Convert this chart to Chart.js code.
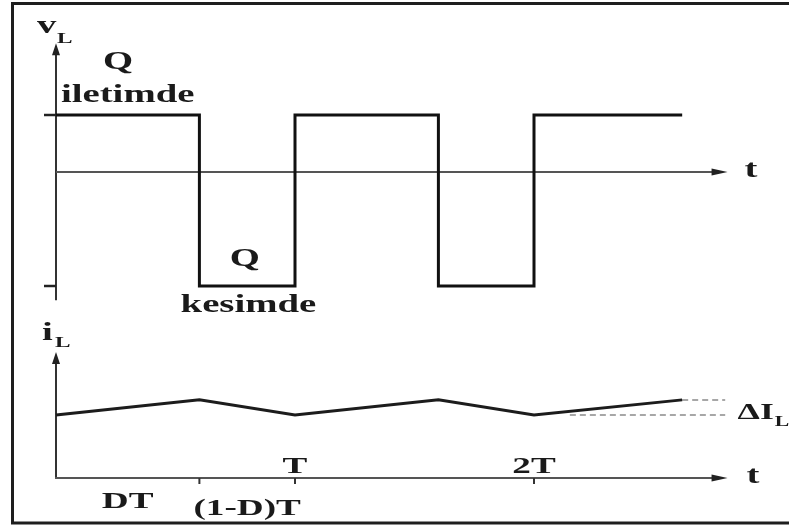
<!DOCTYPE html>
<html>
<head>
<meta charset="utf-8">
<script src="https://cdn.jsdelivr.net/npm/chart.js@4.4.1/dist/chart.umd.min.js"></script>
<style>
  html, body { margin: 0; padding: 0; background: #fff; }
  canvas { display: block; }
</style>
</head>
<body>
<canvas id="c" width="789" height="526"></canvas>
<script>
// Buck converter inductor waveforms; time is measured in switching periods T, duty cycle D = 0.6
const switchTimes = [0, 0.6, 1, 1.6, 2, 2.62];
const vLLevels    = [1, -2, 1, -2, 1, 1];              // inductor voltage (stepped)
const iLValues    = [1.0, 1.24, 1.0, 1.24, 1.0, 1.24];  // inductor current ripple
const rippleLevels = [1.24, 1.0];                       // ΔI_L reference levels
const rippleStarts = [2.62, 2.15];
const rippleEnd    = 2.8;
const periodTicks  = [1, 2];
const periodLabels = ['T', '2T'];
const dutyTick     = 0.6;
const intervalLabels = ['DT', '(1-D)T'];
const intervalCentres = [0.3, 0.8];

// Layout of the two stacked plots on one canvas
const W = 789, H = 526;
const V_ZERO_PX = 172, V_UNIT_PX = 57;     // voltage plot
const I_ZERO_PX = 478, I_UNIT_PX = 63;     // current plot
const AXIS_END = 2.81, V_AXIS = [-2.25, 2.26], I_AXIS_TOP = 2.0;

const SX = 1.55;  // horizontal stretch of the serif lettering
const FONT = '"Liberation Serif", "Times New Roman", serif';
const INK = '#1a1a1a';

function label(ctx, str, x, y, size, align) {
  ctx.save();
  ctx.font = 'bold ' + size + 'px ' + FONT;
  ctx.textBaseline = 'alphabetic';
  ctx.textAlign = 'left';
  const w = ctx.measureText(str).width * SX;
  let left = x;
  if (align === 'center') left = x - w / 2;
  else if (align === 'right') left = x - w;
  ctx.translate(left, y);
  ctx.scale(SX, 1);
  ctx.fillStyle = INK;
  ctx.fillText(str, 0, 0);
  ctx.restore();
  return w;
}

function arrowRight(ctx, x, y) {
  ctx.beginPath();
  ctx.moveTo(x, y);
  ctx.lineTo(x - 16, y - 3.5);
  ctx.lineTo(x - 16, y + 3.5);
  ctx.closePath();
  ctx.fill();
}
function arrowUp(ctx, x, y) {
  ctx.beginPath();
  ctx.moveTo(x, y);
  ctx.lineTo(x - 4, y + 12);
  ctx.lineTo(x + 4, y + 12);
  ctx.closePath();
  ctx.fill();
}
function seg(ctx, x1, y1, x2, y2) {
  ctx.beginPath();
  ctx.moveTo(x1, y1);
  ctx.lineTo(x2, y2);
  ctx.stroke();
}

const axesPlugin = {
  id: 'waveAxes',
  beforeDatasetsDraw(chart) {
    const ctx = chart.ctx;
    const xs = chart.scales.x, yv = chart.scales.yV, yi = chart.scales.yI;
    const X = v => xs.getPixelForValue(v);
    ctx.save();
    ctx.strokeStyle = '#333';
    ctx.fillStyle = '#222';
    ctx.lineCap = 'butt';

    // voltage plot axes
    ctx.lineWidth = 2;
    const x0 = X(0);
    seg(ctx, x0, yv.getPixelForValue(V_AXIS[0]), x0, yv.getPixelForValue(V_AXIS[1]) + 10);
    arrowUp(ctx, x0, yv.getPixelForValue(V_AXIS[1]));
    ctx.strokeStyle = '#555';
    seg(ctx, x0, yv.getPixelForValue(0), X(AXIS_END) - 14, yv.getPixelForValue(0));
    arrowRight(ctx, X(AXIS_END), yv.getPixelForValue(0));
    // level marks on the voltage axis
    ctx.strokeStyle = '#222';
    ctx.lineWidth = 2.5;
    [1, -2].forEach(v => {
      const py = yv.getPixelForValue(v);
      seg(ctx, x0 - 12, py, x0, py);
    });

    // current plot axes
    ctx.strokeStyle = '#333';
    ctx.lineWidth = 2;
    seg(ctx, x0, yi.getPixelForValue(0), x0, yi.getPixelForValue(I_AXIS_TOP) + 10);
    arrowUp(ctx, x0, yi.getPixelForValue(I_AXIS_TOP));
    ctx.strokeStyle = '#555';
    seg(ctx, x0 - 1, yi.getPixelForValue(0), X(AXIS_END) - 14, yi.getPixelForValue(0));
    arrowRight(ctx, X(AXIS_END), yi.getPixelForValue(0));
    ctx.strokeStyle = '#333';
    [dutyTick].concat(periodTicks).forEach(t => {
      const px = X(t), py = yi.getPixelForValue(0);
      seg(ctx, px, py, px, py + 6);
    });
    ctx.restore();
  },
  afterDraw(chart) {
    const ctx = chart.ctx;
    const xs = chart.scales.x, yv = chart.scales.yV, yi = chart.scales.yI;
    const X = v => xs.getPixelForValue(v);
    const x0 = X(0);
    const vTop = yv.getPixelForValue(V_AXIS[1]);
    const iTop = yi.getPixelForValue(I_AXIS_TOP);
    const vHigh = yv.getPixelForValue(1), vLow = yv.getPixelForValue(-2);
    const v0 = yv.getPixelForValue(0), i0 = yi.getPixelForValue(0);

    // axis names
    label(ctx, 'v', x0 - 19, vTop - 10, 25, 'left');
    label(ctx, 'L', x0 + 1, vTop, 15, 'left');
    label(ctx, 'i', x0 - 14, iTop - 12, 25, 'left');
    label(ctx, 'L', x0 - 1, iTop - 5, 15, 'left');
    label(ctx, 't', X(AXIS_END) + 17, v0 + 5, 25, 'left');
    label(ctx, 't', X(AXIS_END) + 19, i0 + 5, 25, 'left');

    // switch state annotations
    label(ctx, 'Q', X(0.26), vHigh - 46, 25, 'center');
    label(ctx, 'iletimde', X(0.3), vHigh - 13, 25, 'center');
    label(ctx, 'Q', X(0.79), vLow - 20, 25, 'center');
    label(ctx, 'kesimde', X(0.805), vLow + 26, 25, 'center');

    // time marks
    periodTicks.forEach((t, k) => label(ctx, periodLabels[k], X(t), i0 - 5, 24, 'center'));
    label(ctx, intervalLabels[0], X(intervalCentres[0]), i0 + 30, 24, 'center');
    label(ctx, intervalLabels[1], X(intervalCentres[1]), i0 + 37, 24, 'center');

    // ripple annotation
    const rx = X(AXIS_END) + 10, ry = yi.getPixelForValue(rippleLevels[1]) + 4;
    const wd = label(ctx, '\u0394I', rx, ry, 23, 'left');
    label(ctx, 'L', rx + wd + 1, ry + 7, 14, 'left');

    // frame
    ctx.save();
    ctx.strokeStyle = '#1e1e1e';
    ctx.lineWidth = 3;
    ctx.beginPath();
    ctx.moveTo(W, 3.5);
    ctx.lineTo(12.5, 3.5);
    ctx.lineTo(12.5, 523);
    ctx.lineTo(W, 523);
    ctx.stroke();
    ctx.restore();
  }
};

const pts = (xs, ys) => xs.map((x, k) => ({ x: x, y: ys[k] }));

new Chart(document.getElementById('c'), {
  type: 'line',
  data: {
    datasets: [
      {
        data: pts(switchTimes, vLLevels),
        yAxisID: 'yV',
        stepped: true,
        borderColor: '#111',
        borderWidth: 3,
        borderJoinStyle: 'miter',
        pointRadius: 0,
        fill: false,
        clip: false
      },
      {
        data: pts(switchTimes, iLValues),
        yAxisID: 'yI',
        borderColor: '#1c1c1c',
        borderWidth: 3,
        tension: 0,
        pointRadius: 0,
        fill: false,
        clip: false
      },
      ...rippleLevels.map((lvl, k) => ({
        data: pts([rippleStarts[k], rippleEnd], [lvl, lvl]),
        yAxisID: 'yI',
        borderColor: '#8a8a8a',
        borderWidth: 1.5,
        borderDash: [6, 4],
        pointRadius: 0,
        fill: false,
        clip: false
      }))
    ]
  },
  options: {
    responsive: false,
    animation: false,
    events: [],
    layout: { padding: { left: 56, right: W - 56 - 239 * 3, top: 0, bottom: 0 } },
    plugins: { legend: { display: false }, tooltip: { enabled: false }, title: { display: false } },
    scales: {
      x: { type: 'linear', display: false, min: 0, max: 3 },
      yV: { type: 'linear', display: false,
            min: -(H - V_ZERO_PX) / V_UNIT_PX, max: V_ZERO_PX / V_UNIT_PX },
      yI: { type: 'linear', display: false,
            min: -(H - I_ZERO_PX) / I_UNIT_PX, max: I_ZERO_PX / I_UNIT_PX }
    }
  },
  plugins: [axesPlugin]
});
</script>
</body>
</html>
